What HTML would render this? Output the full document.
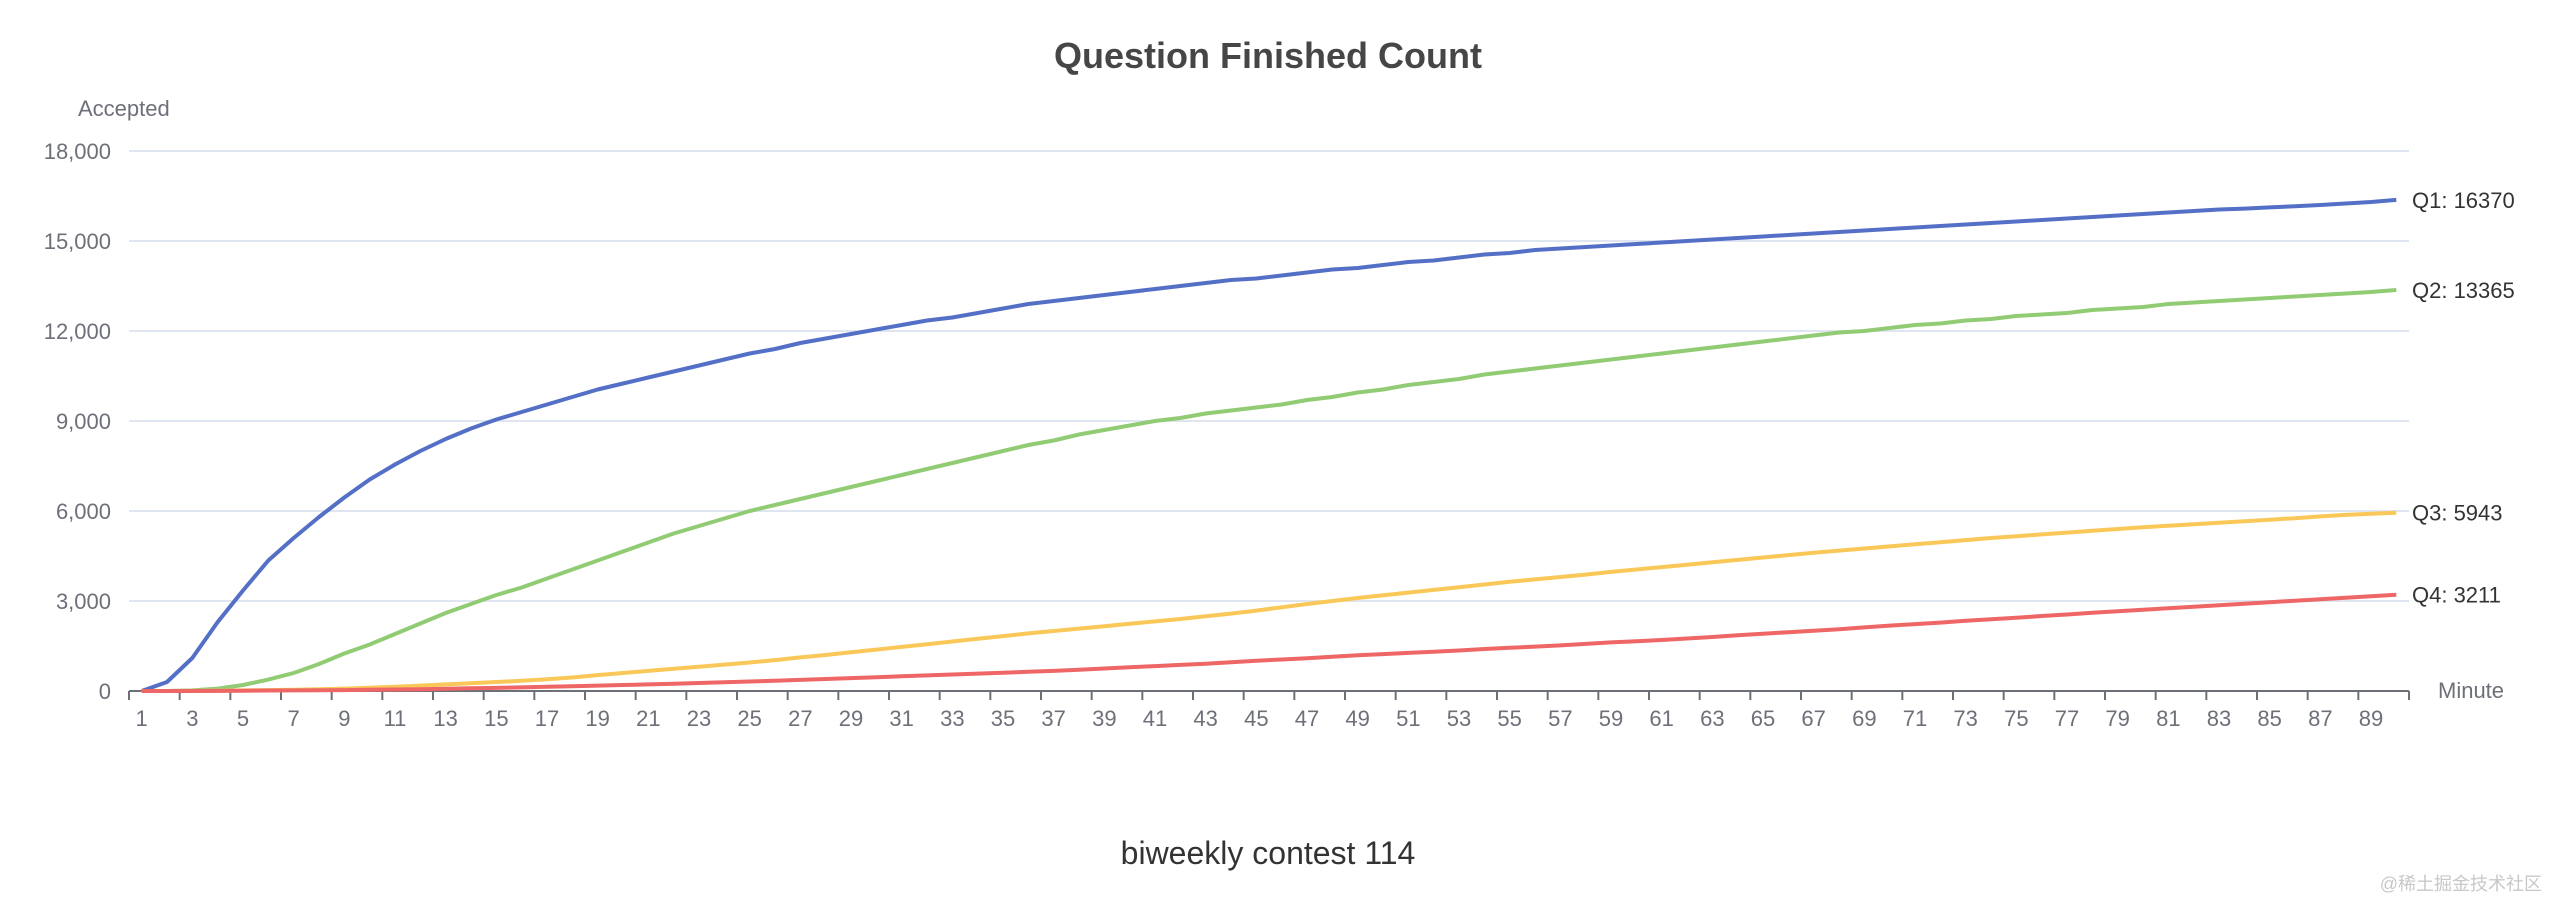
<!DOCTYPE html>
<html><head><meta charset="utf-8"><style>
html,body{margin:0;padding:0;background:#fff;}
svg{display:block;font-family:"Liberation Sans",Arial,sans-serif;}
</style></head><body>
<svg id="chart" width="2552" height="898" viewBox="0 0 2552 898" xmlns="http://www.w3.org/2000/svg">
<text x="1268" y="68" text-anchor="middle" font-size="36" font-weight="bold" fill="#464646">Question Finished Count</text>
<text x="78" y="116" font-size="22" fill="#6e7079">Accepted</text>
<text x="2438" y="698" font-size="22" fill="#6e7079">Minute</text>
<text x="1268" y="864" text-anchor="middle" font-size="32" fill="#333">biweekly contest 114</text>
<text x="2542" y="890" text-anchor="end" font-size="18" fill="#c8c8c8" font-family="'Liberation Sans','Noto Sans CJK SC',sans-serif">@稀土掘金技术社区</text>
<g id="grid"></g><g id="axes"></g><g id="series"></g><g id="labels"></g>
</svg>
<script>
const yTicks = [0,3000,6000,9000,12000,15000,18000];
const categories = Array.from({length:90},(_,i)=>String(i+1));
const seriesNames = ["Q1","Q2","Q3","Q4"];
const seriesColors = ["#5470c6","#91cc75","#fac858","#ee6666"];
const q1 = [0,300,1100,2300,3350,4350,5100,5800,6450,7050,7550,8000,8400,8750,9050,9300,9550,9800,10050,10250,10450,10650,10850,11050,11250,11400,11600,11750,11900,12050,12200,12350,12450,12600,12750,12900,13000,13100,13200,13300,13400,13500,13600,13700,13750,13850,13950,14050,14100,14200,14300,14350,14450,14550,14600,14700,14750,14800,14850,14900,14950,15000,15050,15100,15150,15200,15250,15300,15350,15400,15450,15500,15550,15600,15650,15700,15750,15800,15850,15900,15950,16000,16050,16080,16120,16160,16200,16250,16300,16370];
const q2 = [0,0,20,80,200,380,600,900,1250,1550,1900,2250,2600,2900,3200,3450,3750,4050,4350,4650,4950,5250,5500,5750,6000,6200,6400,6600,6800,7000,7200,7400,7600,7800,8000,8200,8350,8550,8700,8850,9000,9100,9250,9350,9450,9550,9700,9800,9950,10050,10200,10300,10400,10550,10650,10750,10850,10950,11050,11150,11250,11350,11450,11550,11650,11750,11850,11950,12000,12100,12200,12250,12350,12400,12500,12550,12600,12700,12750,12800,12900,12950,13000,13050,13100,13150,13200,13250,13300,13365];
const q3 = [0,0,5,10,20,30,40,60,80,110,140,180,220,260,300,340,390,450,530,600,670,740,810,880,950,1030,1120,1200,1290,1380,1470,1560,1650,1740,1830,1920,2000,2080,2160,2240,2320,2400,2490,2580,2680,2790,2900,3000,3100,3190,3280,3370,3460,3550,3640,3720,3800,3880,3970,4050,4130,4210,4290,4370,4450,4530,4610,4680,4750,4820,4890,4960,5030,5100,5160,5220,5280,5340,5400,5460,5510,5560,5610,5660,5710,5760,5820,5870,5910,5943];
const q4 = [0,0,0,5,10,15,20,25,30,40,50,60,75,90,105,120,140,160,180,200,220,240,265,290,315,340,370,400,430,460,490,520,550,580,610,640,670,710,750,790,830,870,910,960,1010,1050,1090,1140,1190,1230,1270,1310,1350,1400,1440,1480,1520,1570,1620,1660,1700,1750,1800,1860,1910,1960,2010,2060,2120,2180,2230,2280,2340,2390,2440,2500,2550,2610,2660,2710,2760,2810,2860,2910,2960,3010,3060,3110,3160,3211];

const NS="http://www.w3.org/2000/svg";
const X0=129, X1=2409, Y0=691, Y1=151, YMAX=18000;
const bw=(X1-X0)/categories.length;
const xPos=i=>X0+bw*(i+0.5);
const yPos=v=>Y0-(v/YMAX)*(Y0-Y1);
function mk(tag,attrs,parent){const e=document.createElementNS(NS,tag);for(const k in attrs)e.setAttribute(k,attrs[k]);parent.appendChild(e);return e;}
const grid=document.getElementById('grid'),axes=document.getElementById('axes'),ser=document.getElementById('series'),lab=document.getElementById('labels');
yTicks.forEach(v=>{
  if(v>0){const l=mk('line',{x1:X0,x2:X1,y1:yPos(v),y2:yPos(v),stroke:'#e0e6f1','stroke-width':2},grid);
  
  }
  const t=mk('text',{x:111,y:yPos(v)+8,'text-anchor':'end','font-size':22,fill:'#6e7079'},axes);
  t.textContent=v.toLocaleString('en-US');
  
  
});
const ax=mk('line',{x1:X0,x2:X1,y1:Y0,y2:Y0,stroke:'#6e7079','stroke-width':2},axes);


for(let i=0;i<=categories.length;i+=2){
  const x=X0+bw*i;
  const tk=mk('line',{x1:x,x2:x,y1:Y0,y2:Y0+9,stroke:'#6e7079','stroke-width':2},axes);
  
  
}
const tkEnd=mk('line',{x1:X1,x2:X1,y1:Y0,y2:Y0+9,stroke:'#6e7079','stroke-width':2},axes);


categories.forEach((c,i)=>{
  if(i%2!==0)return;
  const t=mk('text',{x:xPos(i),y:Y0+35,'text-anchor':'middle','font-size':22,fill:'#6e7079'},axes);
  t.textContent=c;
  
  
});
[q1,q2,q3,q4].forEach((d,s)=>{
  const pts=d.map((v,i)=>xPos(i).toFixed(1)+','+yPos(v).toFixed(1)).join(' ');
  const p=mk('polyline',{points:pts,fill:'none',stroke:seriesColors[s],'stroke-width':4,'stroke-linejoin':'round'},ser);
  
  
  const last=d[d.length-1];
  const t=mk('text',{x:2412,y:yPos(last)+8,'font-size':22,fill:'#333'},lab);
  t.textContent=seriesNames[s]+': '+last;
  
  
});
</script>
</body></html>
